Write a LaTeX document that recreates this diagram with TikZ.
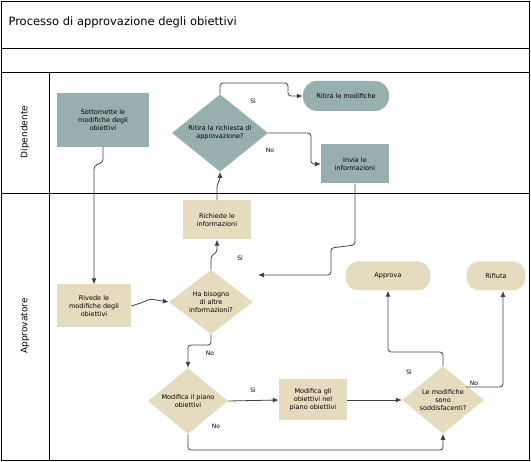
\documentclass[tikz,border=0pt]{standalone}
\usepackage{fontspec}
\setmainfont{DejaVu Sans}
\usetikzlibrary{shapes.geometric,arrows.meta}
\definecolor{teal1}{HTML}{97AFAF}
\definecolor{beige1}{HTML}{E5DCC0}
\begin{document}
\begin{tikzpicture}[x=1pt,y=-1pt,
  txt/.style={font=\fontsize{6.5}{7.8}\selectfont,align=center,inner sep=1pt},
  box/.style={txt,draw=none,minimum width=#1},
  tbox/.style={txt,fill=teal1},
  bbox/.style={txt,fill=beige1},
  pill/.style={txt,fill=beige1,rounded corners=13pt},
  dia/.style={txt,diamond,fill=beige1,aspect=1.3,inner sep=0pt},
  con/.style={draw=black!75,line width=0.8pt,-{Latex[length=6pt,width=5pt]},rounded corners=3pt},
  lab/.style={font=\fontsize{6}{7}\selectfont,inner sep=0pt}]
\useasboundingbox (0,0) rectangle (531,462);
\draw[line width=0.8pt] (1,1) rectangle (529,460);
\draw (1,48) -- (529,48);
\draw (1,72) -- (529,72);
\draw[line width=0.8pt] (1,193) -- (529,193);
\draw[line width=0.8pt] (49,72) -- (49,460);
\node[anchor=west,font=\fontsize{11.5}{13}\selectfont] (title) at (5,22) {Processo di approvazione degli obiettivi};
\node[rotate=90,font=\fontsize{9}{11}\selectfont] (l1) at (25,132) {Dipendente};
\node[rotate=90,font=\fontsize{9}{11}\selectfont] (l2) at (25,326) {Approvatore};

\node[tbox,minimum width=92pt,minimum height=54pt] (sott) at (103,120) {Sottomette le\\modifiche degli\\obiettivi};
\node[txt,diamond,fill=teal1,minimum width=96pt,minimum height=72pt,inner sep=0pt] (ritq) at (220,133) {Ritira la richiesta di\\approvazione?};
\node[txt,fill=teal1,rounded corners=14pt,minimum width=86pt,minimum height=30pt] (ritm) at (346,96) {Ritira le modifiche};
\node[tbox,minimum width=68pt,minimum height=39pt] (invia) at (355,164) {Invia le\\informazioni};
\node[bbox,minimum width=68pt,minimum height=39pt] (rich) at (217,220) {Richiede le\\informazioni};
\node[bbox,minimum width=74pt,minimum height=43pt] (rived) at (94,306) {Rivede le\\modifiche degli\\obiettivi};
\node[txt,diamond,fill=beige1,minimum width=84pt,minimum height=64pt,inner sep=0pt] (hab) at (211,302) {Ha bisogno\\di altre\\informazioni?};
\node[pill,minimum width=85pt,minimum height=29pt] (appr) at (388,276) {Approva};
\node[pill,minimum width=59pt,minimum height=29pt] (rif) at (496,276) {Rifiuta};
\node[txt,diamond,fill=beige1,minimum width=80pt,minimum height=60pt,inner sep=0pt] (modp) at (188,401) {Modifica il piano\\obiettivi};
\node[bbox,minimum width=68pt,minimum height=41pt] (modo) at (313,400) {Modifica gli\\obiettivi nel\\piano obiettivi};
\node[txt,diamond,fill=beige1,minimum width=82pt,minimum height=60pt,inner sep=0pt] (sodd) at (443,400) {Le modifiche\\sono\\soddisfacenti?};

\draw[con] (sott.south) -- (103,162) -- (94,166) -- (rived.north);
\draw[con] (ritq.north) -- (220,83) -- (288,83) -- (288,96) -- (ritm.west);
\node[lab] (s1) at (253,101) {Sì};
\draw[con] (ritq.east) -- (311,133) -- (311,164) -- (invia.west);
\node[lab] (n1) at (270,150) {No};
\draw[con] (invia.south) -- (355,245) -- (331,248) -- (331,275) -- (258,275);
\draw[con] (hab.north) -- (211,256) -- (217,252) -- (rich.south);
\node[lab] (s2) at (240,258) {Sì};
\draw[con] (rich.north) -- (217,184) -- (220,180) -- (ritq.south);
\draw[con] (rived.east) -- (141,303) -- (150,299) -- (hab.west);
\draw[con] (hab.south) -- (211,345) -- (188,345) -- (modp.north);
\node[lab] (n2) at (210,353) {No};
\draw[con] (modp.east) -- (modo.west);
\node[lab] (s3) at (253,390) {Sì};
\draw[con] (modp.south) -- (188,450) -- (443,450) -- (sodd.south);
\node[lab] (n3) at (216,426) {No};
\draw[con] (modo.east) -- (sodd.west);
\draw[con] (sodd.north) -- (443,352) -- (388,352) -- (appr.south);
\node[lab] (s4) at (409,372) {Sì};
\draw[con] (466,387) -- (503,387) -- (503,291);
\node[lab] (n4) at (474,383) {No};
\end{tikzpicture}
\end{document}
